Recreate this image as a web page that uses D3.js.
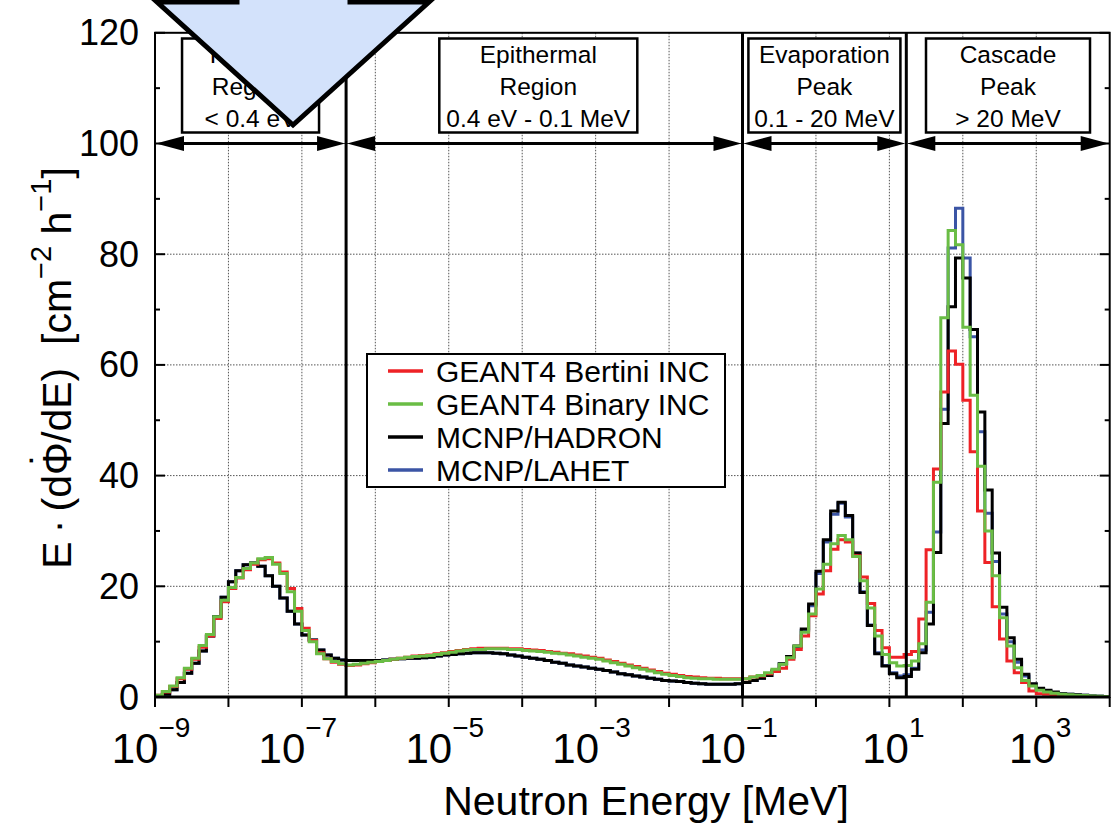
<!DOCTYPE html>
<html><head><meta charset="utf-8">
<script src="https://cdn.jsdelivr.net/npm/d3@7"></script>
<style>
body{margin:0;background:#fff}
svg{display:block}
text{font-family:"Liberation Sans",Arial,Helvetica,sans-serif;fill:#000}
</style>
</head><body>
<svg id="chart" width="1118" height="828"></svg>
<script>
// ---------------- DATA ----------------
const seriesNames = ["GEANT4 Bertini INC", "GEANT4 Binary INC", "MCNP/HADRON", "MCNP/LAHET"];
const seriesColors = ["#ee2226", "#6abd45", "#000000", "#3b55a5"];
// histogram bins: 10 per decade starting at 1e-9 MeV
const binStartExp = -9;
const binsPerDecade = 10;
const bertini = [
 0.3,0.9,1.9,3.3,5.0,6.8,9.0,11.0,14.2,17.2,
 19.6,21.5,23.0,24.0,24.8,25.0,24.2,22.6,19.6,16.0,
 12.4,10.2,8.0,6.9,6.3,5.9,5.7,5.8,6.0,6.2,
 6.4,6.6,6.8,7.0,7.2,7.4,7.5,7.6,7.8,8.0,
 8.2,8.4,8.6,8.7,8.8,8.8,8.8,8.8,8.7,8.7,
 8.6,8.5,8.4,8.2,8.1,7.9,7.8,7.6,7.4,7.2,
 7.0,6.7,6.4,6.1,5.8,5.5,5.2,4.9,4.6,4.3,
 4.1,3.9,3.7,3.6,3.5,3.4,3.4,3.3,3.3,3.3,
 3.3,3.6,3.8,4.2,4.6,5.2,6.8,8.6,11.0,14.7,
 18.6,22.8,26.7,28.4,28.0,25.5,21.7,16.9,12.0,8.9,
 7.2,7.2,7.7,8.2,14.1,26.6,41.2,55.1,62.5,60.1,
 53.6,44.3,33.6,24.3,16.3,10.5,6.5,4.4,2.6,1.1,
 0.6,0.5,0.4,0.3,0.25,0.2,0.15,0.1,0.1,0.05
];
const binary = [
 0.3,1.0,2.0,3.5,5.2,7.0,9.3,11.3,14.5,17.5,
 19.8,21.6,23.2,24.2,25.0,25.2,24.0,22.3,19.0,15.5,
 12.0,10.0,7.8,6.9,6.4,6.0,5.8,5.9,6.1,6.3,
 6.4,6.6,6.8,7.0,7.2,7.3,7.4,7.5,7.7,7.9,
 8.1,8.3,8.5,8.6,8.6,8.7,8.7,8.7,8.6,8.6,
 8.4,8.3,8.2,8.1,7.9,7.8,7.6,7.4,7.2,7.0,
 6.8,6.5,6.2,5.9,5.6,5.3,5.0,4.7,4.4,4.1,
 3.9,3.7,3.5,3.4,3.3,3.3,3.2,3.2,3.2,3.2,
 3.3,3.6,3.9,4.4,5.0,5.9,7.1,9.2,11.7,15.0,
 19.5,24.0,27.7,29.2,28.4,25.4,21.0,16.1,11.0,7.7,
 6.2,5.6,5.7,6.5,9.6,17.1,38.8,68.5,84.3,81.7,
 66.8,54.5,41.7,30.0,21.9,14.3,9.2,5.3,3.0,2.0,
 1.2,0.9,0.7,0.5,0.4,0.3,0.25,0.2,0.15,0.1
];
const hadron = [
 0.1,0.5,1.3,2.6,4.3,6.1,8.3,11.0,14.5,18.0,
 20.8,22.8,23.9,24.2,23.6,21.9,20.0,17.9,15.5,13.2,
 11.2,10.3,8.5,7.6,7.0,6.7,6.6,6.6,6.6,6.6,
 6.6,6.7,6.8,6.9,7.0,7.0,7.1,7.2,7.4,7.6,
 7.7,7.8,7.9,8.0,8.0,8.0,7.9,7.8,7.6,7.4,
 7.2,7.0,6.8,6.6,6.3,6.1,5.8,5.6,5.4,5.2,
 5.0,4.8,4.5,4.2,4.0,3.8,3.6,3.4,3.2,3.0,
 2.9,2.8,2.6,2.5,2.4,2.3,2.3,2.3,2.3,2.4,
 2.6,3.0,3.4,3.9,4.7,6.0,7.3,9.2,12.3,16.8,
 22.7,28.4,33.6,35.2,32.8,26.0,18.9,12.9,7.8,5.6,
 4.2,3.5,3.7,5.0,8.0,13.2,26.1,49.4,70.5,79.3,
 75.7,66.4,51.5,37.4,26.0,16.2,10.7,6.8,4.1,2.4,
 1.6,1.2,0.9,0.6,0.5,0.4,0.3,0.2,0.15,0.1
];
const lahet = [
 0.1,0.5,1.3,2.6,4.3,6.1,8.3,11.0,14.5,18.0,
 20.8,22.8,23.9,24.2,23.6,21.9,20.0,17.9,15.5,13.2,
 11.2,10.3,8.5,7.6,7.0,6.7,6.6,6.6,6.6,6.6,
 6.6,6.7,6.8,6.9,7.0,7.0,7.1,7.2,7.4,7.6,
 7.7,7.8,7.9,8.0,8.0,8.0,7.9,7.8,7.6,7.4,
 7.2,7.0,6.8,6.6,6.3,6.1,5.8,5.6,5.4,5.2,
 5.0,4.8,4.5,4.2,4.0,3.8,3.6,3.4,3.2,3.0,
 2.9,2.8,2.6,2.5,2.4,2.3,2.3,2.3,2.3,2.4,
 2.6,3.0,3.4,3.9,4.7,6.0,7.2,9.0,12.0,16.5,
 22.3,28.0,33.0,35.0,32.5,26.0,19.0,13.0,8.0,5.7,
 4.4,3.8,4.0,5.2,8.5,15.3,29.8,52.0,81.1,88.3,
 79.3,65.1,47.9,33.2,24.5,15.0,10.0,6.3,3.8,2.3,
 1.5,1.1,0.8,0.6,0.5,0.4,0.3,0.2,0.15,0.1
];
const seriesValues = [bertini, binary, hadron, lahet];
const drawOrder = [3, 2, 0, 1];

const yTicks = [0, 20, 40, 60, 80, 100, 120];
const yMinorTicks = [10, 30, 50, 70, 90, 110];
const xTickExps = [-9,-8,-7,-6,-5,-4,-3,-2,-1,0,1,2,3,4];
const xLabelExps = [-9, -7, -5, -3, -1, 1, 3];
const regionEdges = [1e-9, 4e-7, 0.1, 17, 1e4];
const regionText = [
  ["Thermal", "Region", "< 0.4 eV"],
  ["Epithermal", "Region", "0.4 eV - 0.1 MeV"],
  ["Evaporation", "Peak", "0.1 - 20 MeV"],
  ["Cascade", "Peak", "> 20 MeV"]
];
const regionBoxWidths = [137, 198, 152, 164];
const regionBoxShift = [0, -6, 0, 0];
const xTitle = "Neutron Energy [MeV]";

// ---------------- CHART ----------------
const svg = d3.select("#chart");
const L = 155, R = 1109.7, T = 32.8, B = 697;
const x = d3.scaleLog().domain([1e-9, 1e4]).range([L, R]);
const y = d3.scaleLinear().domain([0, 120]).range([B, T]);

svg.append("defs").append("clipPath").attr("id", "clip")
  .append("rect").attr("x", L).attr("y", T).attr("width", R - L).attr("height", B - T);

// grid
const grid = svg.append("g").attr("stroke", "#555").attr("stroke-width", 1).attr("stroke-dasharray", "1.5,1.5");
xTickExps.slice(1, -1).forEach(e => {
  grid.append("line").attr("x1", x(Math.pow(10, e))).attr("x2", x(Math.pow(10, e)))
    .attr("y1", T).attr("y2", B);
});
yTicks.slice(1, -1).forEach(v => {
  grid.append("line").attr("x1", L).attr("x2", R).attr("y1", y(v)).attr("y2", y(v));
});

// histograms
const binEdge = i => Math.pow(10, binStartExp + i / binsPerDecade);
const line = d3.line().curve(d3.curveStepAfter).x(d => x(d[0])).y(d => y(d[1]));
const curves = svg.append("g").attr("clip-path", "url(#clip)");
drawOrder.forEach(si => {
  const vals = seriesValues[si];
  const pts = vals.map((v, i) => [binEdge(i), v]);
  pts.push([binEdge(vals.length), vals[vals.length - 1]]);
  curves.append("path").attr("d", line(pts)).attr("fill", "none")
    .attr("stroke", seriesColors[si]).attr("stroke-width", 3)
    .attr("stroke-linejoin", "miter");
});

// frame
svg.append("rect").attr("x", L).attr("y", T).attr("width", R - L).attr("height", B - T)
  .attr("fill", "none").attr("stroke", "#000").attr("stroke-width", 2);
svg.append("line").attr("x1", L).attr("x2", R).attr("y1", B).attr("y2", B)
  .attr("stroke", "#000").attr("stroke-width", 3);

// y ticks (inward, both sides)
const tk = svg.append("g").attr("stroke", "#000").attr("stroke-width", 2);
yTicks.forEach(v => {
  tk.append("line").attr("x1", L).attr("x2", L + 10).attr("y1", y(v)).attr("y2", y(v));
  tk.append("line").attr("x1", R).attr("x2", R - 10).attr("y1", y(v)).attr("y2", y(v));
});
yMinorTicks.forEach(v => {
  tk.append("line").attr("x1", L).attr("x2", L + 5).attr("y1", y(v)).attr("y2", y(v));
  tk.append("line").attr("x1", R).attr("x2", R - 5).attr("y1", y(v)).attr("y2", y(v));
});
// x ticks (outward)
xTickExps.forEach(e => {
  tk.append("line").attr("x1", x(Math.pow(10, e))).attr("x2", x(Math.pow(10, e)))
    .attr("y1", B).attr("y2", B + 10);
});

// y tick labels
yTicks.forEach(v => {
  svg.append("text").attr("x", 139).attr("y", y(v) + 12.5).attr("text-anchor", "end")
    .attr("font-size", 36).text(v);
});
// x tick labels
xLabelExps.forEach(e => {
  const t = svg.append("text").attr("x", x(Math.pow(10, e)) + (e < 0 ? -4 : 4)).attr("y", 763)
    .attr("text-anchor", "middle");
  t.append("tspan").attr("font-size", 42).text("10");
  t.append("tspan").attr("font-size", 28).attr("dy", -26).text(e < 0 ? "\u2212" + Math.abs(e) : String(e));
});

// axis titles
svg.append("text").attr("x", 646).attr("y", 815).attr("text-anchor", "middle")
  .attr("font-size", 41).text(xTitle);
const yFs = 41;
const yt = svg.append("text").attr("transform", "translate(71,368) rotate(-90)")
  .attr("text-anchor", "middle").attr("font-size", yFs);
yt.append("tspan").text("E\u2009\u00b7\u2009(d\u03a6");
yt.append("tspan").attr("dx", -0.57 * yFs).attr("dy", -0.3 * yFs).text("\u02d9");
yt.append("tspan").attr("dx", 0.22 * yFs).attr("dy", 0.3 * yFs).text("/dE)\u00a0\u00a0[cm");
yt.append("tspan").attr("font-size", 29).attr("dy", -20).text("\u22122");
yt.append("tspan").attr("dy", 20).text("\u00a0h");
yt.append("tspan").attr("font-size", 29).attr("dy", -20).text("\u22121");
yt.append("tspan").attr("dy", 20).text("]");

// region dividers
regionEdges.slice(1, -1).forEach(e => {
  svg.append("line").attr("x1", x(e)).attr("x2", x(e)).attr("y1", T).attr("y2", B)
    .attr("stroke", "#000").attr("stroke-width", 3);
});

// region arrows at y = 100
const yArr = y(100);
const arrows = svg.append("g");
for (let r = 0; r < regionText.length; r++) {
  const a = x(regionEdges[r]), b = x(regionEdges[r + 1]);
  arrows.append("line").attr("x1", a + 10).attr("x2", b - 10).attr("y1", yArr).attr("y2", yArr)
    .attr("stroke", "#000").attr("stroke-width", 3);
  arrows.append("path").attr("d", `M${a + 1},${yArr} L${a + 29},${yArr - 7.5} L${a + 29},${yArr + 7.5} Z`).attr("fill", "#000");
  arrows.append("path").attr("d", `M${b - 1},${yArr} L${b - 29},${yArr - 7.5} L${b - 29},${yArr + 7.5} Z`).attr("fill", "#000");
}

// region boxes
regionText.forEach((lines, r) => {
  const cx = (x(regionEdges[r]) + x(regionEdges[r + 1])) / 2 + regionBoxShift[r];
  const w = regionBoxWidths[r];
  svg.append("rect").attr("x", cx - w / 2).attr("y", 38.5).attr("width", w).attr("height", 94)
    .attr("fill", "#fff").attr("stroke", "#000").attr("stroke-width", 2.5);
  lines.forEach((s, k) => {
    svg.append("text").attr("x", cx).attr("y", 63 + k * 32).attr("text-anchor", "middle")
      .attr("font-size", 24.5).text(s);
  });
});

// legend
const lg = svg.append("g");
lg.append("rect").attr("x", 367).attr("y", 354).attr("width", 358).attr("height", 133)
  .attr("fill", "#fff").attr("stroke", "#000").attr("stroke-width", 2);
seriesNames.forEach((n, i) => {
  const yy = 371 + i * 33;
  lg.append("line").attr("x1", 388).attr("x2", 423).attr("y1", yy).attr("y2", yy)
    .attr("stroke", seriesColors[i]).attr("stroke-width", 3.5);
  lg.append("text").attr("x", 436).attr("y", yy + 10.5).attr("font-size", 30).text(n);
});

// big annotation arrow
svg.append("path")
  .attr("d", "M237,-12 L237,2 L157,2 L293,125 L429,2 L350,2 L350,-12 Z")
  .attr("fill", "#d3e2fb").attr("stroke", "#000").attr("stroke-width", 5)
  .attr("stroke-linejoin", "miter");
</script>
</body></html>
